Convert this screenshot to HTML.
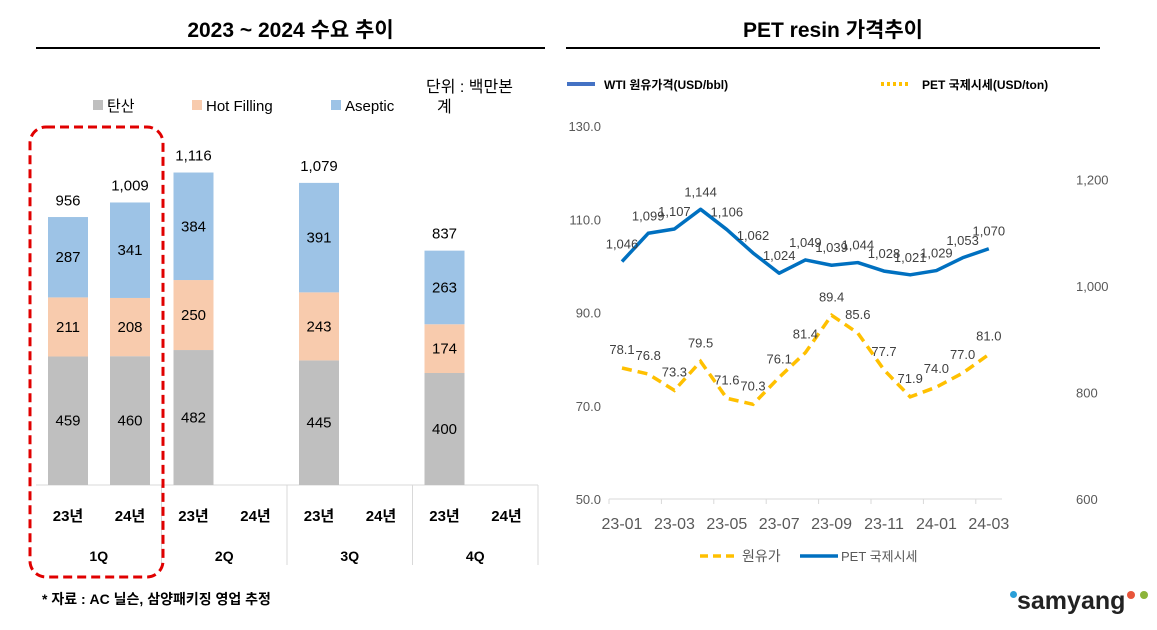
<!DOCTYPE html>
<html><head><meta charset="utf-8">
<style>
body{margin:0;width:1157px;height:630px;background:#fff;font-family:"Liberation Sans","Noto Sans CJK KR",sans-serif;overflow:hidden;position:relative}
.t{position:absolute;white-space:nowrap}
</style></head>
<body>
<div class="t" style="left:36px;width:509px;text-align:center;top:14px;font-size:21px;font-weight:bold">2023 ~ 2024 수요 추이</div>
<div style="position:absolute;left:36px;top:47px;width:509px;height:2px;background:#000"></div>
<div class="t" style="left:566px;width:534px;text-align:center;top:14px;font-size:21px;font-weight:bold">PET resin 가격추이</div>
<div style="position:absolute;left:566px;top:47px;width:534px;height:2px;background:#000"></div>
<div class="t" style="left:42px;top:589px;font-size:14px;font-weight:bold">* 자료 : AC 닐슨, 삼양패키징 영업 추정</div>
<div style="position:absolute;left:1010px;top:585px;width:145px;height:40px">
 <div style="position:absolute;left:0;top:6px;width:7px;height:7px;border-radius:50%;background:#2a9fd8"></div>
 <div class="t" style="left:7px;top:2px;font-size:25px;font-weight:bold;color:#222">samyang</div>
 <div style="position:absolute;left:117px;top:6px;width:8px;height:8px;border-radius:50%;background:#e8553b"></div>
 <div style="position:absolute;left:130px;top:6px;width:8px;height:8px;border-radius:50%;background:#8cb43a"></div>
</div>
<svg id="bar" width="560" height="630" style="position:absolute;left:0;top:0"></svg>
<svg id="line" width="597" height="630" style="position:absolute;left:560px;top:0"></svg>
<script>
// Bar chart data
const barLabels=["23년","24년","23년","24년","23년","24년","23년","24년"];
const quarters=["1Q","2Q","3Q","4Q"];
const soda=[459,460,482,null,445,null,400,null];
const hot=[211,208,250,null,243,null,174,null];
const asep=[287,341,384,null,391,null,263,null];
const totals=[956,1009,1116,null,1079,null,837,null];
// Line chart data
const months=["23-01","23-02","23-03","23-04","23-05","23-06","23-07","23-08","23-09","23-10","23-11","23-12","24-01","24-02","24-03"];
const oil=[78.1,76.8,73.3,79.5,71.6,70.3,76.1,81.4,89.4,85.6,77.7,71.9,74.0,77.0,81.0];
const pet=[1046,1099,1107,1144,1106,1062,1024,1049,1039,1044,1028,1021,1029,1053,1070];
const leftTicks=[50,70,90,110,130];
const rightTicks=[600,800,1000,1200];

const NS="http://www.w3.org/2000/svg";
function mk(p,tag,a,txt){const e=document.createElementNS(NS,tag);for(const k in a)e.setAttribute(k,a[k]);if(txt!=null)e.textContent=txt;p.appendChild(e);return e;}
const F='"Liberation Sans","Noto Sans CJK KR",sans-serif';

// ---- bar chart
const B=document.getElementById('bar');
const base=485, k=0.28, g0=36, gw=125.5;
const bx=i=>g0+Math.floor(i/2)*gw+(i%2?94:32);
const by=v=>base-v*k;
mk(B,'line',{x1:36,y1:base,x2:538,y2:base,stroke:'#d9d9d9'});
for(let q=1;q<=4;q++){const x=g0+q*gw;mk(B,'line',{x1:x,y1:base,x2:x,y2:565,stroke:'#d9d9d9'});}
const cols=['#bfbfbf','#f8cbad','#9dc3e6'];
const series=[soda,hot,asep];const snames=['soda','hot-filling','aseptic'];
barLabels.forEach((lab,i)=>{
 let cum=0;
 series.forEach((s,j)=>{const v=s[i];if(v==null)return;
  const r=mk(B,'rect',{x:bx(i)-20,y:by(cum+v),width:40,height:v*k,fill:cols[j]});
  
  
  const t=mk(B,'text',{x:bx(i),y:by(cum+v/2)+5,'text-anchor':'middle','font-size':15,'font-family':F,fill:'#000'},v);
  
  
  cum+=v;});
 if(totals[i]!=null){const t=mk(B,'text',{x:bx(i),y:by(totals[i])-12,'text-anchor':'middle','font-size':15,'font-family':F},totals[i].toLocaleString('en-US'));
  
  }
 const t=mk(B,'text',{x:bx(i),y:521,'text-anchor':'middle','font-size':15,'font-weight':'bold','font-family':F},lab);
 
 
});
quarters.forEach((q,i)=>{const t=mk(B,'text',{x:g0+i*gw+gw/2,y:561,'text-anchor':'middle','font-size':14,'font-weight':'bold','font-family':F},q);
 
 });
const hl=mk(B,'rect',{x:30,y:127,width:133,height:450,rx:16,fill:'none',stroke:'#e00000','stroke-width':3,'stroke-dasharray':'9,5'});


[['탄산',93],['Hot Filling',192],['Aseptic',331]].forEach((l,j)=>{
 const r=mk(B,'rect',{x:l[1],y:100,width:10,height:10,fill:cols[j]});
 
 
 const t=mk(B,'text',{x:l[1]+14,y:111,'font-size':15,'font-family':F},l[0]);
 
 });
let u=mk(B,'text',{x:426,y:92,'font-size':16,'font-family':F},'단위 : 백만본');


u=mk(B,'text',{x:437,y:112,'font-size':16,'font-family':F},'계');



// ---- line chart (local coords, offset 560)
const L=document.getElementById('line');
const x0=62, dx=26.2;
const X=i=>x0+i*dx;
const YL=v=>499-(v-50)*93.25/20;
const YR=v=>499-(v-600)*106.5/200;
mk(L,'line',{x1:49,y1:499,x2:442,y2:499,stroke:'#d9d9d9'});
for(let i=0;i<=7;i++){mk(L,'line',{x1:49+i*52.4,y1:499,x2:49+i*52.4,y2:504,stroke:'#d9d9d9'});}
leftTicks.forEach(v=>{const t=mk(L,'text',{x:41,y:YL(v)+5,'text-anchor':'end','font-size':13,fill:'#595959','font-family':F},v.toFixed(1));
 
 });
rightTicks.forEach(v=>{const t=mk(L,'text',{x:516,y:YR(v)+5,'font-size':13,fill:'#595959','font-family':F},v.toLocaleString('en-US'));
 
 });
months.forEach((m,i)=>{if(i%2)return;const t=mk(L,'text',{x:X(i),y:529,'text-anchor':'middle','font-size':16,fill:'#595959','font-family':F},m);
 
 });
let p=mk(L,'polyline',{points:pet.map((v,i)=>X(i)+','+YR(v)).join(' '),fill:'none',stroke:'#0070c0','stroke-width':3.5,'stroke-linejoin':'round'});


p=mk(L,'polyline',{points:oil.map((v,i)=>X(i)+','+YL(v)).join(' '),fill:'none',stroke:'#ffc000','stroke-width':3.5,'stroke-dasharray':'10,6'});


pet.forEach((v,i)=>{const t=mk(L,'text',{x:X(i),y:YR(v)-13,'text-anchor':'middle','font-size':13,fill:'#404040','font-family':F},v.toLocaleString('en-US'));
 
 });
oil.forEach((v,i)=>{const t=mk(L,'text',{x:X(i),y:YL(v)-14,'text-anchor':'middle','font-size':13,fill:'#404040','font-family':F},v.toFixed(1));
 
 });
// top legend
mk(L,'line',{x1:7,y1:84,x2:35,y2:84,stroke:'#4472c4','stroke-width':4});
let t=mk(L,'text',{x:44,y:89,'font-size':12,'font-weight':'bold','font-family':F},'WTI 원유가격(USD/bbl)');


mk(L,'line',{x1:321,y1:84,x2:350,y2:84,stroke:'#ffc000','stroke-width':4,'stroke-dasharray':'3,3'});
t=mk(L,'text',{x:362,y:89,'font-size':12,'font-weight':'bold','font-family':F},'PET 국제시세(USD/ton)');


// bottom legend
mk(L,'line',{x1:140,y1:556,x2:175,y2:556,stroke:'#ffc000','stroke-width':3.5,'stroke-dasharray':'8,5'});
t=mk(L,'text',{x:182,y:561,'font-size':14,fill:'#595959','font-family':F},'원유가');


mk(L,'line',{x1:240,y1:556,x2:278,y2:556,stroke:'#0070c0','stroke-width':3.5});
t=mk(L,'text',{x:281,y:561,'font-size':13,fill:'#595959','font-family':F},'PET 국제시세');


</script>
</body></html>
